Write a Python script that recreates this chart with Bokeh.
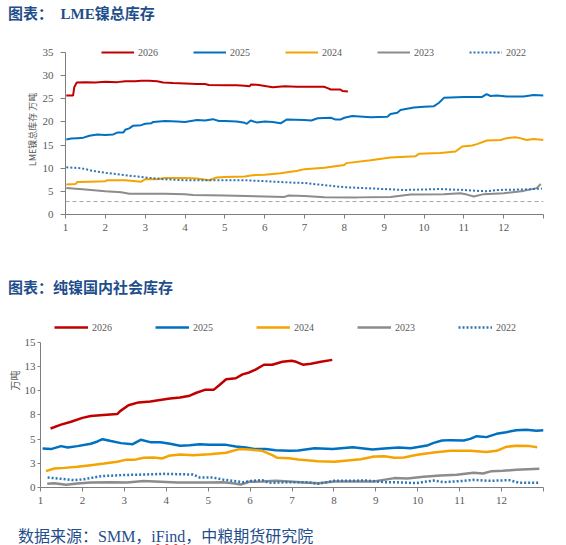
from bokeh.plotting import figure
from bokeh.models import Range1d, FixedTicker, Span, Div, Title
from bokeh.layouts import column
from bokeh.embed import file_html
from bokeh.resources import INLINE

# ---------------- data: LME nickel total stock (10k t), x = month position ----------------
years = ["2026", "2025", "2024", "2023", "2022"]
colors = ["#c00000", "#0070c0", "#f5a300", "#8c8c8c", "#2e75b6"]

lme_2026_x = [1.02, 1.19, 1.22, 1.28, 1.5, 1.75, 2.0, 2.3, 2.5, 2.75, 2.9, 3.1, 3.3, 3.45, 3.7, 4.0, 4.3,
              4.5, 4.6, 5.0, 5.3, 5.5, 5.62, 5.66, 5.85, 6.05, 6.2, 6.5, 6.8, 7.2, 7.49, 7.58, 7.66,
              7.9, 7.95, 8.09]
lme_2026_y = [25.7, 25.7, 27.5, 28.5, 28.6, 28.5, 28.7, 28.6, 28.8, 28.8, 28.9, 28.9, 28.8, 28.5, 28.4,
              28.3, 28.2, 28.2, 28.0, 27.9, 27.9, 27.8, 27.7, 28.1, 28.0, 27.7, 27.5, 27.7, 27.6, 27.6,
              27.6, 27.3, 27.0, 27.0, 26.7, 26.6]

lme_2025_x = [1.02, 1.15, 1.3, 1.45, 1.6, 1.8, 2.0, 2.2, 2.3, 2.45, 2.5, 2.6, 2.7, 2.9, 3.0, 3.15, 3.2,
              3.5, 3.8, 4.0, 4.3, 4.5, 4.7, 4.85, 5.0, 5.3, 5.5, 5.55, 5.65, 5.8, 6.0, 6.2, 6.4, 6.55,
              7.0, 7.17, 7.33, 7.66, 7.78, 7.9, 8.0, 8.2, 8.66, 9.08, 9.16, 9.33, 9.41, 9.54, 9.75,
              10.0, 10.25, 10.37, 10.5, 11.0, 11.46, 11.57, 11.67, 11.83, 12.08, 12.5, 12.75, 13.0]
lme_2025_y = [16.2, 16.4, 16.5, 16.6, 17.0, 17.3, 17.2, 17.3, 17.7, 17.7, 18.3, 18.6, 19.2, 19.3, 19.6,
              19.7, 20.0, 20.2, 20.1, 20.0, 20.4, 20.3, 20.6, 20.2, 20.2, 20.1, 19.8, 19.6, 20.3, 19.9,
              20.1, 20.0, 19.7, 20.5, 20.4, 20.3, 20.8, 20.9, 20.5, 20.5, 20.9, 21.3, 21.0, 21.1, 21.7,
              22.0, 22.6, 22.8, 23.1, 23.3, 23.4, 24.1, 25.2, 25.4, 25.4, 26.0, 25.6, 25.7, 25.5, 25.5,
              25.8, 25.7]

lme_2024_x = [1.02, 1.25, 1.3, 1.6, 2.0, 2.05, 2.5, 2.9, 3.0, 3.3, 3.5, 4.0, 4.3, 4.6, 4.8, 5.0, 5.5,
              5.7, 6.0, 6.4, 6.6, 6.8, 7.0, 7.5, 8.0, 8.05, 8.66, 9.16, 9.79, 9.87, 10.41, 10.79,
              10.96, 11.21, 11.33, 11.58, 11.92, 12.08, 12.29, 12.41, 12.58, 12.75, 13.0]
lme_2024_y = [6.5, 6.6, 7.0, 7.1, 7.2, 7.4, 7.4, 7.1, 7.6, 7.6, 7.9, 7.9, 7.8, 7.4, 8.0, 8.1, 8.2, 8.5,
              8.6, 8.9, 9.2, 9.4, 9.8, 10.1, 10.7, 11.1, 11.7, 12.3, 12.6, 13.1, 13.3, 13.6, 14.7, 14.9,
              15.2, 16.0, 16.1, 16.5, 16.7, 16.5, 16.1, 16.3, 16.1]

lme_2023_x = [1.02, 1.5, 2.0, 2.4, 2.6, 3.0, 3.5, 4.0, 4.2, 5.0, 6.0, 6.5, 6.6, 7.0, 7.5, 8.33, 9.16,
              9.66, 10.5, 10.91, 11.08, 11.25, 11.5, 12.0, 12.5, 12.83, 12.93]
lme_2023_y = [5.7, 5.4, 5.0, 4.8, 4.5, 4.5, 4.5, 4.4, 4.2, 4.1, 3.9, 3.8, 4.1, 4.0, 3.75, 3.7, 3.8, 4.3,
              4.4, 4.6, 4.3, 3.9, 4.4, 4.6, 5.1, 5.7, 6.6]

lme_2022_x = [1.02, 1.4, 1.7, 2.0, 2.5, 3.0, 3.5, 4.0, 5.0, 5.5, 6.0, 6.66, 7.0, 7.33, 8.0, 8.75, 9.5,
              10.4, 11.0, 11.58, 11.83, 12.5, 12.96]
lme_2022_y = [10.2, 10.0, 9.4, 9.0, 8.5, 8.0, 7.6, 7.4, 7.4, 7.4, 7.2, 6.9, 6.8, 6.5, 5.9, 5.6, 5.3,
              5.5, 5.3, 5.0, 5.3, 5.4, 5.6]

# ---------------- data: China refined nickel social stock (10k t) ----------------
soc_2026_x = [1.24, 1.49, 1.73, 2.0, 2.2, 2.5, 2.83, 2.9, 3.1, 3.34, 3.62, 3.93, 4.09, 4.33, 4.56, 4.72,
              4.92, 5.13, 5.27, 5.43, 5.66, 5.82, 5.98, 6.13, 6.33, 6.53, 6.77, 6.99, 7.1, 7.26, 7.45,
              7.69, 7.96]
soc_2026_y = [6.1, 6.5, 6.8, 7.2, 7.4, 7.5, 7.6, 7.9, 8.5, 8.8, 8.9, 9.1, 9.2, 9.3, 9.5, 9.8, 10.1,
              10.1, 10.6, 11.2, 11.3, 11.7, 11.9, 12.2, 12.7, 12.7, 13.0, 13.1, 13.0, 12.7, 12.8, 13.0,
              13.2]

soc_2025_x = [1.05, 1.25, 1.49, 1.65, 1.88, 2.2, 2.36, 2.48, 2.68, 2.92, 3.2, 3.39, 3.62, 3.86, 4.09,
              4.33, 4.56, 4.8, 5.03, 5.43, 5.66, 5.9, 6.13, 6.37, 6.61, 6.93, 7.15, 7.54, 7.97, 8.45,
              8.92, 9.2, 9.55, 9.83, 10.22, 10.38, 10.58, 10.78, 11.1, 11.25, 11.41, 11.64, 11.88,
              12.11, 12.35, 12.59, 12.83, 13.0]
soc_2025_y = [4.03, 3.97, 4.28, 4.14, 4.28, 4.52, 4.76, 5.0, 4.8, 4.59, 4.48, 4.93, 4.69, 4.69, 4.52,
              4.31, 4.38, 4.48, 4.41, 4.41, 4.24, 4.14, 3.97, 3.97, 3.86, 3.79, 3.83, 4.07, 3.97, 4.17,
              3.93, 4.03, 4.14, 4.07, 4.34, 4.62, 4.86, 4.9, 4.86, 5.03, 5.31, 5.21, 5.55, 5.72, 5.93,
              5.97, 5.86, 5.93]

soc_2024_x = [1.13, 1.33, 1.57, 1.88, 2.2, 2.52, 2.83, 3.03, 3.23, 3.46, 3.7, 3.9, 4.06, 4.33, 4.64,
              5.03, 5.43, 5.74, 5.98, 6.29, 6.53, 6.65, 6.93, 7.15, 7.62, 8.01, 8.64, 8.96, 9.2, 9.44,
              9.67, 9.99, 10.38, 10.78, 11.25, 11.64, 11.88, 12.11, 12.35, 12.67, 12.85]
soc_2024_y = [1.69, 1.97, 2.03, 2.14, 2.31, 2.48, 2.66, 2.86, 2.86, 3.07, 3.1, 3.0, 3.28, 3.41, 3.34,
              3.45, 3.59, 3.97, 3.93, 3.79, 3.34, 3.07, 3.03, 2.9, 2.72, 2.66, 2.93, 3.21, 3.24, 3.07,
              3.1, 3.38, 3.62, 3.79, 3.79, 3.66, 3.79, 4.21, 4.31, 4.28, 4.17]

soc_2023_x = [1.16, 1.33, 1.61, 1.88, 2.2, 2.68, 3.07, 3.46, 3.86, 4.25, 4.64, 5.03, 5.35, 5.59, 5.78,
              5.98, 6.29, 6.61, 6.93, 7.3, 7.62, 8.01, 8.96, 9.44, 9.75, 10.14, 10.54, 10.93, 11.33,
              11.56, 11.76, 12.03, 12.35, 12.9]
soc_2023_y = [0.38, 0.45, 0.28, 0.41, 0.52, 0.55, 0.52, 0.66, 0.59, 0.52, 0.52, 0.52, 0.55, 0.45, 0.31,
              0.59, 0.62, 0.69, 0.62, 0.52, 0.45, 0.62, 0.62, 0.97, 0.93, 1.1, 1.24, 1.31, 1.52, 1.45,
              1.69, 1.72, 1.83, 1.93]

soc_2022_x = [1.17, 1.49, 1.8, 2.04, 2.44, 2.92, 3.46, 3.93, 4.25, 4.64, 4.8, 5.11, 5.35, 5.82, 6.05,
              6.29, 6.45, 6.93, 7.38, 7.62, 8.01, 8.8, 9.2, 9.67, 9.95, 10.38, 10.62, 11.1, 11.33,
              11.72, 12.19, 12.43, 12.9]
soc_2022_y = [1.03, 0.9, 0.76, 0.86, 1.17, 1.28, 1.34, 1.41, 1.38, 1.34, 1.03, 1.03, 0.83, 0.55, 0.69,
              0.76, 0.48, 0.55, 0.55, 0.38, 0.69, 0.72, 0.55, 0.52, 0.45, 0.72, 0.55, 0.69, 0.79, 0.69,
              0.76, 0.48, 0.48]

x_ticks = list(range(1, 14))
x_tick_labels = [str(m) for m in range(1, 13)] + [""]
lme_y_ticks = [0, 5, 10, 15, 20, 25, 30, 35]
soc_y_ticks = [0, 2.5, 5, 7.5, 10, 12.5, 15]
soc_y_tick_labels = ["0", "3", "5", "8", "10", "13", "15"]
lme_ref_level = 2.8

title1 = "图表：  LME镍总库存"
title2 = "图表：纯镍国内社会库存"
lme_axis_label = "LME镍总库存 万吨"
soc_axis_label = "万吨"

SERIF = "Liberation Serif"
TICK_COLOR = "#595959"
AXIS_COLOR = "#7f7f7f"
TITLE_COLOR = "#1f4e8c"


def style_axes(p, y_ticks, y_bounds, tick_out, y_standoff, y_labels=None):
    p.outline_line_color = None
    p.grid.visible = False
    p.background_fill_color = "white"
    p.border_fill_color = "white"
    for ax in (p.xaxis[0], p.yaxis[0]):
        ax.axis_line_color = AXIS_COLOR
        ax.major_tick_line_color = AXIS_COLOR
        ax.minor_tick_line_color = None
        ax.major_tick_in = 0
        ax.major_label_text_font = SERIF
        ax.major_label_text_font_size = "11px"
        ax.major_label_text_color = TICK_COLOR
    p.xaxis[0].major_tick_out = 4
    p.xaxis[0].ticker = FixedTicker(ticks=x_ticks)
    p.xaxis[0].major_label_overrides = {t: l for t, l in zip(x_ticks, x_tick_labels)}
    p.xaxis[0].major_label_standoff = 5
    p.yaxis[0].major_tick_out = tick_out
    p.yaxis[0].ticker = FixedTicker(ticks=y_ticks)
    p.yaxis[0].bounds = y_bounds
    if y_labels is not None:
        p.yaxis[0].major_label_overrides = {t: l for t, l in zip(y_ticks, y_labels)}
    p.yaxis[0].major_label_standoff = y_standoff


def style_legend(p, x, y, spacing, glyph_w):
    lg = p.legend[0]
    lg.orientation = "horizontal"
    lg.location = (x, y)
    lg.label_text_font = SERIF
    lg.label_text_font_size = "10px"
    lg.label_text_color = TICK_COLOR
    lg.glyph_width = glyph_w
    lg.glyph_height = 12
    lg.label_height = 12
    lg.label_standoff = 4
    lg.spacing = spacing
    lg.padding = 0
    lg.margin = 0
    lg.border_line_color = None
    lg.background_fill_alpha = 0


# ---------------- chart 1 ----------------
p1 = figure(width=538, height=213, x_range=Range1d(1, 13), y_range=Range1d(0, 36.73),
            output_backend="svg", toolbar_location=None,
            min_border_left=39, min_border_right=17, min_border_top=12, min_border_bottom=31)
p1.margin = (0, 0, 0, 22)
style_axes(p1, lme_y_ticks, (0, 35), 5, 7)
p1.yaxis[0].axis_label = lme_axis_label
p1.yaxis[0].axis_label_text_font = "Noto Sans CJK SC"
p1.yaxis[0].axis_label_text_font_size = "9px"
p1.yaxis[0].axis_label_text_font_style = "normal"
p1.yaxis[0].axis_label_text_color = TICK_COLOR
p1.yaxis[0].axis_label_standoff = 1

p1.add_layout(Span(location=lme_ref_level, dimension="width", line_color="#a6a6a6",
                   line_dash="4 3", line_width=1))

lme_x = [lme_2026_x, lme_2025_x, lme_2024_x, lme_2023_x, lme_2022_x]
lme_y = [lme_2026_y, lme_2025_y, lme_2024_y, lme_2023_y, lme_2022_y]
for yr, c, xs, ys in zip(years, colors, lme_x, lme_y):
    dash = "2 2" if yr == "2022" else "solid"
    p1.line(xs, ys, line_color=c, line_width=2, line_dash=dash, legend_label=yr)
style_legend(p1, 36, 156, 35, 33)

# ---------------- chart 2 ----------------
p2 = figure(width=566, height=215, x_range=Range1d(1, 13), y_range=Range1d(0, 17.48),
            output_backend="svg", toolbar_location=None,
            min_border_left=39, min_border_right=17, min_border_top=18, min_border_bottom=28)
p2.margin = (0, 0, 0, -3)
style_axes(p2, soc_y_ticks, (0, 15), 3, 2, soc_y_tick_labels)
p2.add_layout(Title(text=soc_axis_label, align="right", offset=52, standoff=0,
                    text_font="Noto Sans CJK SC", text_font_size="10px",
                    text_font_style="normal", text_color=TICK_COLOR), "left")

soc_x = [soc_2026_x, soc_2025_x, soc_2024_x, soc_2023_x, soc_2022_x]
soc_y = [soc_2026_y, soc_2025_y, soc_2024_y, soc_2023_y, soc_2022_y]
for yr, c, xs, ys in zip(years, colors, soc_x, soc_y):
    dash = "2 2" if yr == "2022" else "solid"
    p2.line(xs, ys, line_color=c, line_width=2.5, line_dash=dash, legend_label=yr)
style_legend(p2, 14, 154, 43, 34)

# ---------------- titles & footer ----------------
font_stack = "'Times New Roman', 'Liberation Serif', 'Noto Sans CJK SC', serif"
d1 = Div(text=f"<div style=\"padding-left:8px;padding-top:6px;font-family:{font_stack};font-weight:bold;"
              f"font-size:15px;line-height:16px;color:{TITLE_COLOR};white-space:pre;\">{title1}</div>",
         width=560, height=32, margin=(0, 0, 0, 0))
d2 = Div(text=f"<div style=\"padding-left:8px;padding-top:35px;font-family:{font_stack};font-weight:bold;"
              f"font-size:15px;line-height:16px;color:{TITLE_COLOR};white-space:pre;\">{title2}</div>",
         width=560, height=55, margin=(0, 0, 0, 0))
d3 = Div(text=f"<div style=\"padding-left:18px;padding-top:14px;font-family:{font_stack};font-size:16px;"
              f"line-height:16px;color:{TITLE_COLOR};white-space:pre;\">数据来源：SMM，"
              f"<span style=\"text-decoration:underline wavy #e03030;\">iFind</span>，中粮期货研究院</div>",
         width=560, height=30, margin=(0, 0, 0, 0))

layout = column(d1, p1, d2, p2, d3, spacing=0)
open("out.html", "w").write(file_html(layout, INLINE))
